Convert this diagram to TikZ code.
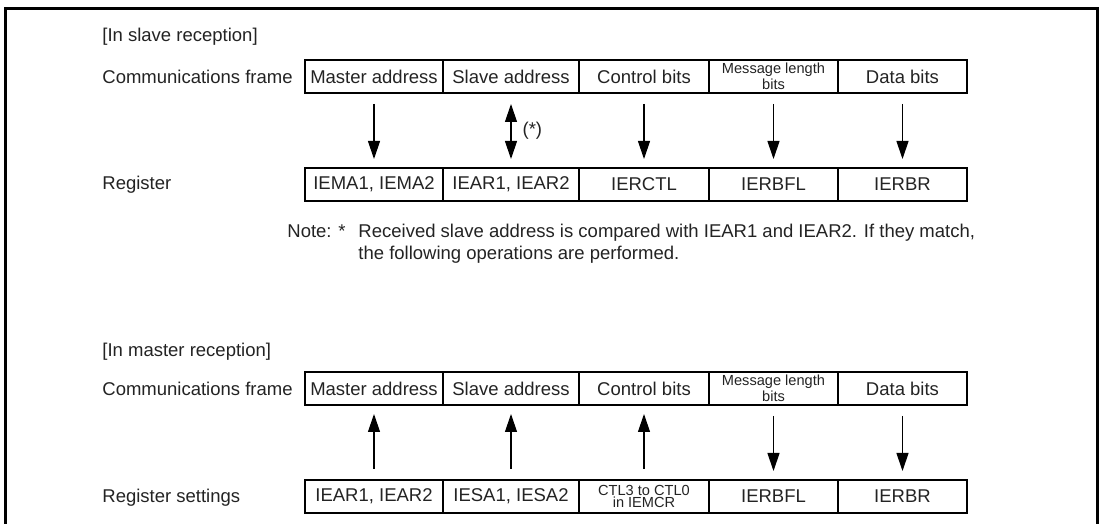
\documentclass[tikz,border=0pt]{standalone}
\usepackage{fontspec}
\setmainfont{Liberation Sans}
\usepackage{tikz}
\usetikzlibrary{positioning,arrows.meta}
\definecolor{ink}{RGB}{35, 35, 35}

\begin{document}
\begin{tikzpicture}[x=0.5pt, y=-0.5pt,
    cell/.style={draw, line width=0.65pt, inner sep=0pt, outer sep=0pt, minimum height=16.5pt, text=ink, font=\fontsize{9.25}{11}\selectfont},
    small/.style={font=\fontsize{7.3}{6.2}\selectfont, align=center},
    lbl/.style={anchor=west, inner sep=0pt, text=ink, font=\fontsize{9.25}{11}\selectfont},
    arr/.style={-{Triangle[length=9pt, width=6pt]}, line width=0.6pt, shorten <=5.5pt, shorten >=4.5pt},
    dblarr/.style={{Triangle[length=9pt, width=6pt]}-{Triangle[length=9pt, width=6pt]}, line width=0.6pt, shorten <=5.5pt, shorten >=4.5pt}]
    \useasboundingbox (0,0) rectangle (1100,524);

    % Outer frame (open at the bottom)
    \draw[line width=1.5pt] (5,524) -- (5,9) -- (1097,9) -- (1097,524);

    % Slave reception
    \node[lbl] (slavetitle) at (102,37) {[In slave reception]};
    \node[lbl] (slaveframelbl) at (102,77) {Communications frame};
    \node[lbl] (slavereglbl) at (102,184.5) {Register};

    \node[cell, minimum width=69pt, anchor=west] (sf1) at (305,76.5) {Master address};
    \node[cell, minimum width=68pt, right=0pt of sf1] (sf2) {Slave address};
    \node[cell, minimum width=65pt, right=0pt of sf2] (sf3) {Control bits};
    \node[cell, minimum width=64.5pt, right=0pt of sf3, small] (sf4) {Message length\\bits};
    \node[cell, minimum width=64.5pt, right=0pt of sf4] (sf5) {Data bits};
    \draw[line width=1pt] (sf1.north west) rectangle (sf5.south east);

    \node[cell, minimum width=69pt, anchor=west] (sr1) at (305,184.5) {IEMA1, IEMA2};
    \node[cell, minimum width=68pt, right=0pt of sr1] (sr2) {IEAR1, IEAR2};
    \node[cell, minimum width=65pt, right=0pt of sr2] (sr3) {IERCTL};
    \node[cell, minimum width=64.5pt, right=0pt of sr3] (sr4) {IERBFL};
    \node[cell, minimum width=64.5pt, right=0pt of sr4] (sr5) {IERBR};
    \draw[line width=1pt] (sr1.north west) rectangle (sr5.south east);

    \draw[arr] (sf1) -- (sr1);
    \draw[dblarr] (sf2) -- node[lbl, right=5.5pt] (star) {(*)} (sr2);
    \draw[arr] (sf3) -- (sr3);
    \draw[arr] (sf4) -- (sr4);
    \draw[arr] (sf5) -- (sr5);

    % Note
    \node[lbl] (note) at (287,231) {Note: *};
    \node[lbl, anchor=north west, align=left] (notetxt) at ([xshift=6pt]note.north east)
        {Received slave address is compared with IEAR1 and IEAR2. If they match,\\the following operations are performed.};

    % Master reception
    \node[lbl] (mastertitle) at (102,352) {[In master reception]};
    \node[lbl] (masterframelbl) at (102,389) {Communications frame};
    \node[lbl] (masterreglbl) at (102,497.5) {Register settings};

    \node[cell, minimum width=69pt, anchor=west] (mf1) at (305,388.5) {Master address};
    \node[cell, minimum width=68pt, right=0pt of mf1] (mf2) {Slave address};
    \node[cell, minimum width=65pt, right=0pt of mf2] (mf3) {Control bits};
    \node[cell, minimum width=64.5pt, right=0pt of mf3, small] (mf4) {Message length\\bits};
    \node[cell, minimum width=64.5pt, right=0pt of mf4] (mf5) {Data bits};
    \draw[line width=1pt] (mf1.north west) rectangle (mf5.south east);

    \node[cell, minimum width=69pt, anchor=west] (mr1) at (305,496.5) {IEAR1, IEAR2};
    \node[cell, minimum width=68pt, right=0pt of mr1] (mr2) {IESA1, IESA2};
    \node[cell, minimum width=65pt, right=0pt of mr2, small] (mr3) {CTL3 to CTL0\\in IEMCR};
    \node[cell, minimum width=64.5pt, right=0pt of mr3] (mr4) {IERBFL};
    \node[cell, minimum width=64.5pt, right=0pt of mr4] (mr5) {IERBR};
    \draw[line width=1pt] (mr1.north west) rectangle (mr5.south east);

    \draw[arr] (mr1) -- (mf1);
    \draw[arr] (mr2) -- (mf2);
    \draw[arr] (mr3) -- (mf3);
    \draw[arr] (mf4) -- (mr4);
    \draw[arr] (mf5) -- (mr5);
\end{tikzpicture}
\end{document}
